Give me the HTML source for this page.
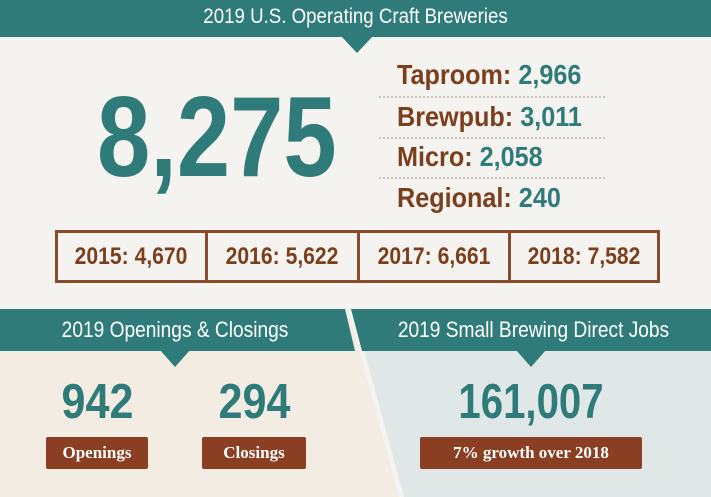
<!DOCTYPE html>
<html><head><meta charset="utf-8"><style>
*{margin:0;padding:0;box-sizing:border-box}
body{width:711px;height:497px;overflow:hidden;background:#f4f3f0;position:relative;font-family:"Liberation Sans",sans-serif}
.a{position:absolute}
.c{white-space:nowrap;font-weight:bold}
.t{color:#2f7b79}.b{color:#7c3f1d}
.hd{color:#fff;font-size:20px;text-align:center;font-weight:normal;white-space:nowrap}
.dot{position:absolute;left:379px;width:226px;border-top:2px dotted #c9c4bd}
.yr{position:absolute;top:0;height:100%;display:flex;align-items:center;justify-content:center;color:#7c3f1d;font-size:24px;font-weight:bold}
.yr span{display:inline-block;transform:scaleX(.88);white-space:nowrap}
.lab{position:absolute;background:#8a3e22;color:#fff;font-family:"Liberation Serif",serif;font-weight:bold;font-size:17px;display:flex;align-items:center;justify-content:center;border-radius:2px}
</style></head><body>
<div class="a" style="left:0;top:0;width:711px;height:37px;background:#2f7b79"></div>
<svg class="a" style="left:0;top:0" width="711" height="497">
<polygon points="341,36 373,36 357,53" fill="#2f7b79"/>
<polygon points="0,309 348,309 399,497 0,497" fill="#f2ece3"/>
<polygon points="353,309 711,309 711,497 404,497" fill="#dfe7e7"/>
<polygon points="0,309 345,309 355,351 0,351" fill="#2f7b79"/>
<polygon points="351,309 711,309 711,351 362,351" fill="#2f7b79"/>
<polygon points="160,350 190,350 175,367" fill="#2f7b79"/>
<polygon points="516,350 546,350 531,367" fill="#2f7b79"/>
</svg>
<div class="a hd" style="left:0;width:711px;top:5px;font-size:21px;transform:scaleX(.89)">2019 U.S. Operating Craft Breweries</div>
<div class="a c t" style="left:97px;top:73px;font-size:114px;line-height:130px;transform:scaleX(.84);transform-origin:left">8,275</div>
<div class="a c" style="left:397px;top:59px;font-size:28px;line-height:32px;transform:scaleX(.9);transform-origin:left"><span class="b">Taproom: </span><span class="t">2,966</span></div>
<div class="a c" style="left:397px;top:101px;font-size:28px;line-height:32px;transform:scaleX(.9);transform-origin:left"><span class="b">Brewpub: </span><span class="t">3,011</span></div>
<div class="a c" style="left:397px;top:141px;font-size:28px;line-height:32px;transform:scaleX(.9);transform-origin:left"><span class="b">Micro: </span><span class="t">2,058</span></div>
<div class="a c" style="left:397px;top:182px;font-size:28px;line-height:32px;transform:scaleX(.9);transform-origin:left"><span class="b">Regional: </span><span class="t">240</span></div>
<div class="dot" style="top:96px"></div><div class="dot" style="top:137px"></div><div class="dot" style="top:177px"></div>
<div class="a" style="left:55px;top:230px;width:605px;height:53px;border:3px solid #8a4a2c">
<div class="yr" style="left:0;width:147px"><span>2015: 4,670</span></div>
<div class="yr" style="left:147px;width:152px;border-left:3px solid #8a4a2c"><span>2016: 5,622</span></div>
<div class="yr" style="left:299px;width:151px;border-left:3px solid #8a4a2c"><span>2017: 6,661</span></div>
<div class="yr" style="left:450px;width:149px;border-left:3px solid #8a4a2c"><span>2018: 7,582</span></div>
</div>
<div class="a hd" style="left:0;width:350px;top:317px;font-size:22px;transform:scaleX(.87)">2019 Openings &amp; Closings</div>
<div class="a hd" style="left:356px;width:355px;top:317px;font-size:22px;transform:scaleX(.87)">2019 Small Brewing Direct Jobs</div>
<div class="a c t" style="left:40px;width:115px;text-align:center;top:377px;font-size:49px;line-height:50px;transform:scaleX(.88)">942</div>
<div class="a c t" style="left:197px;width:115px;text-align:center;top:377px;font-size:49px;line-height:50px;transform:scaleX(.88)">294</div>
<div class="a c t" style="left:431px;width:200px;text-align:center;top:377px;font-size:49px;line-height:50px;transform:scaleX(.82)">161,007</div>
<div class="lab" style="left:46px;top:437px;width:102px;height:32px">Openings</div>
<div class="lab" style="left:202px;top:437px;width:104px;height:32px">Closings</div>
<div class="lab" style="left:420px;top:437px;width:222px;height:32px">7% growth over 2018</div>
</body></html>
